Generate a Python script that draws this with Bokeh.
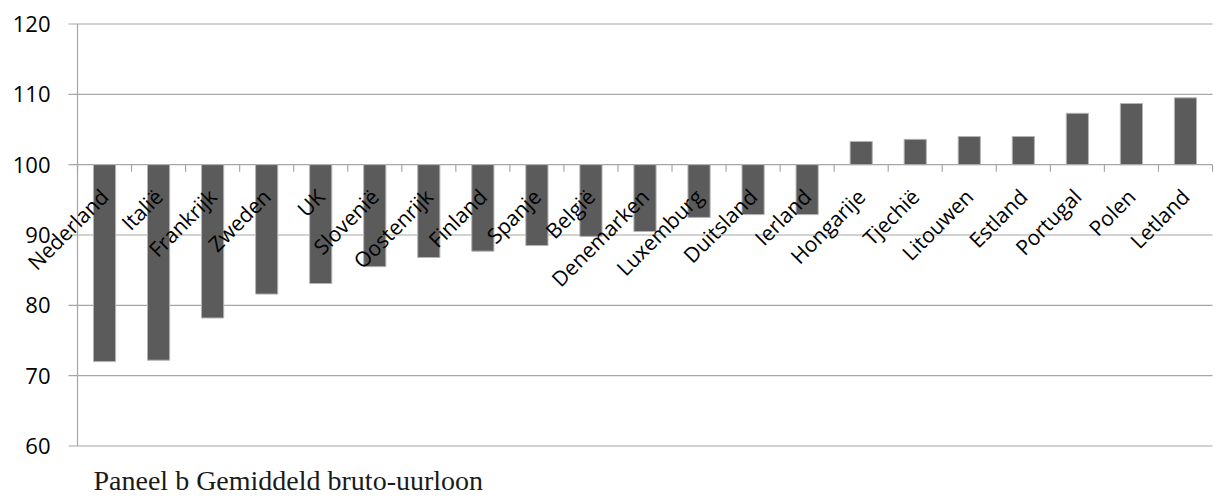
import math
from bokeh.plotting import figure
from bokeh.models import ColumnDataSource, Label, Range1d
from bokeh.core.properties import value
from bokeh.embed import file_html
from bokeh.resources import INLINE

countries = ["Nederland", "Italië", "Frankrijk", "Zweden", "UK", "Slovenië", "Oostenrijk",
             "Finland", "Spanje", "België", "Denemarken", "Luxemburg", "Duitsland", "Ierland",
             "Hongarije", "Tjechië", "Litouwen", "Estland", "Portugal", "Polen", "Letland"]
values = [72.0, 72.2, 78.2, 81.6, 83.1, 85.5, 86.8,
          87.7, 88.5, 89.8, 90.5, 92.5, 92.9, 92.9,
          103.3, 103.6, 104.0, 104.0, 107.3, 108.7, 109.5]
y_ticks = [60, 70, 80, 90, 100, 110, 120]
y_tick_labels = ["60", "70", "80", "90", "100", "110", "120"]
baseline = 100
caption = "Paneel b Gemiddeld bruto-uurloon"

# ---- layout (pixels) ----
W, H = 1217, 500
plot_left, plot_right = 77, 1212      # pixel x of category 0 start / last category end
plot_top, plot_bottom = 23.5, 445.5   # pixel y of y max / y min
n = len(countries)
y_min, y_max = y_ticks[0], y_ticks[-1]
ppx = (plot_right - plot_left) / n
ppy = (plot_bottom - plot_top) / (y_max - y_min)
x_range = Range1d(-plot_left / ppx, n + (W - plot_right) / ppx)
y_range = Range1d(y_min - (H - plot_bottom) / ppy, y_max + plot_top / ppy)

centers = [i + 0.5 for i in range(n)]
bounds = list(range(n + 1))

src = ColumnDataSource(dict(x=centers, top=values, bottom=[baseline] * n, name=countries))

p = figure(width=W, height=H, output_backend="svg", toolbar_location=None,
           x_range=x_range, y_range=y_range,
           x_axis_location=None, y_axis_location=None,
           min_border=0)
p.outline_line_color = None
p.background_fill_color = "white"
p.xgrid.visible = False
p.ygrid.visible = False

grid_col = "#a6a6a6"
tick_out = 9 / ppx
# horizontal gridlines incl. outward y ticks
p.segment(x0=[-tick_out] * len(y_ticks), x1=[n] * len(y_ticks), y0=y_ticks, y1=y_ticks,
          line_color=grid_col, line_width=1.2)
# y axis line
p.segment(x0=[0], x1=[0], y0=[y_min], y1=[y_max], line_color=grid_col, line_width=1.2)
# y tick labels
p.text(x=[0] * len(y_ticks), y=y_ticks, text=y_tick_labels, x_offset=-27,
       text_align="right", text_baseline="middle", text_font=value("Open Sans"),
       text_font_size="22px", text_color="#000000")

p.vbar(x="x", top="top", bottom="bottom", width=0.41, source=src,
       fill_color="#5b5b5b", line_color="#b4b4b4", line_width=1)

# category axis ticks at the 100 crossing line
p.segment(x0=bounds, x1=bounds, y0=[baseline] * (n + 1), y1=[baseline - 7 / ppy] * (n + 1),
          line_color=grid_col, line_width=1.2)

# category labels
p.text(x="x", y="bottom", text="name", source=src, angle=math.pi / 4,
       text_align="right", text_baseline="middle", x_offset=0, y_offset=28,
       text_font=value("Open Sans"), text_font_size="21px", text_color="#000000")

p.add_layout(Label(x=93, y=20, x_units="screen", y_units="screen", text=caption,
                   text_align="left", text_baseline="alphabetic",
                   text_font="Liberation Serif", text_font_size="28px", text_color="#1a1a1a"))

open("out.html", "w").write(file_html(p, INLINE))
